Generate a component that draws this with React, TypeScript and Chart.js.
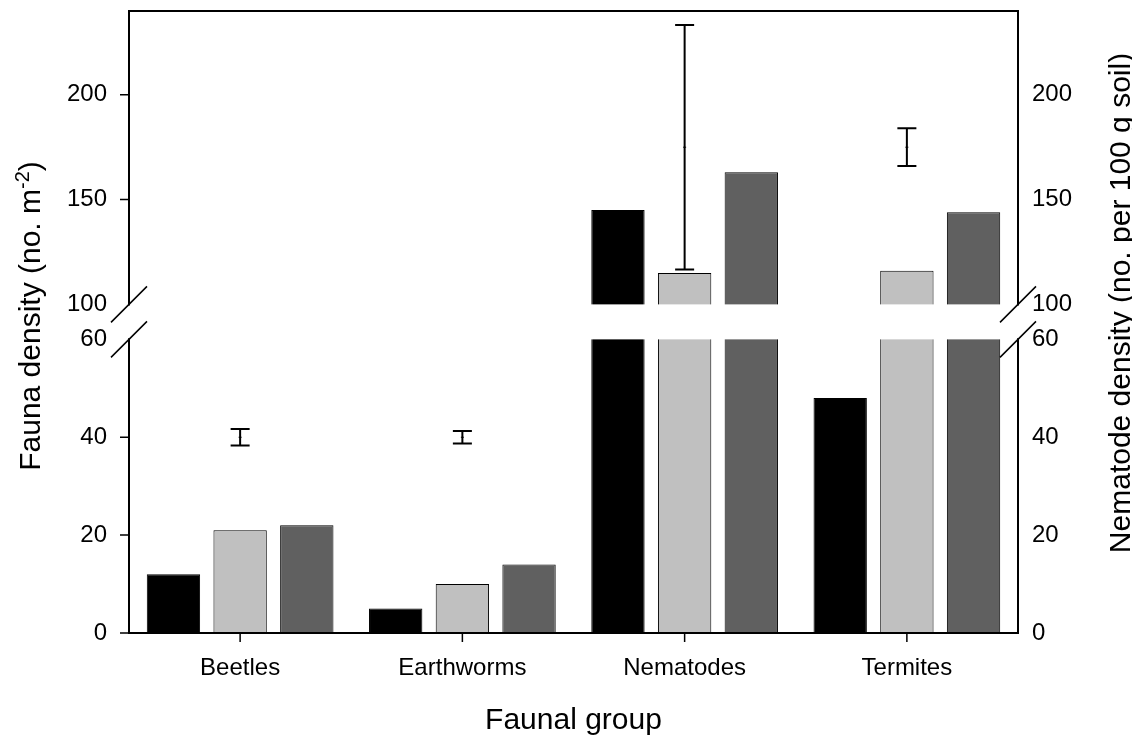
import React, { useEffect, useRef } from 'react';
import { Chart, registerables, LinearScale } from 'chart.js';

// ---------- data ----------
const categories = ['Beetles', 'Earthworms', 'Nematodes', 'Termites'];
const seriesBlack = [12, 5, 145, 48];
const seriesLight = [21, 10, 115, 116];
const seriesDark = [22, 14, 163, 144];
const errorMean = [40, 40, 175, 175];
const errorHalf = [1.7, 1.3, 58.3, 9];
const yTicks = [0, 20, 40, 60, 100, 150, 200];
const seriesColors = ['#000000', '#c0c0c0', '#606060'];

const xTitle = 'Faunal group';
const yTitleMain = 'Fauna density (no. m';
const yTitleSup = '-2';
const yTitleEnd = ')';
const y2Title = 'Nematode density (no. per 100 g soil)';

// ---------- broken axis definition ----------
const AXIS_MAX = 240;
const BREAK_LOW = 60;
const BREAK_HIGH = 100;
const GAP = 7.15;
const UPPER_FACTOR = 0.4282;

function toDisplay(v: number): number {
  if (v <= BREAK_LOW) return v;
  if (v >= BREAK_HIGH) return BREAK_LOW + GAP + (v - BREAK_HIGH) * UPPER_FACTOR;
  return BREAK_LOW + ((v - BREAK_LOW) / (BREAK_HIGH - BREAK_LOW)) * GAP;
}
function fromDisplay(d: number): number {
  if (d <= BREAK_LOW) return d;
  if (d >= BREAK_LOW + GAP) return BREAK_HIGH + (d - BREAK_LOW - GAP) / UPPER_FACTOR;
  return BREAK_LOW + ((d - BREAK_LOW) / GAP) * (BREAK_HIGH - BREAK_LOW);
}

class BrokenLinearScale extends LinearScale {
  static id = 'brokenLinear';
  static defaults = LinearScale.defaults;
  buildTicks() {
    return yTicks.map((value) => ({ value }));
  }
  getPixelForValue(value: any) {
    if (value === null || value === undefined || isNaN(value)) return NaN;
    return super.getPixelForValue(toDisplay(value));
  }
  getValueForPixel(pixel: number) {
    return fromDisplay(super.getValueForPixel(pixel));
  }
}

Chart.register(...registerables, BrokenLinearScale as any);

const FONT = "'Liberation Sans', Arial, Helvetica, sans-serif";

const brokenAxisPlugin = {
  id: 'brokenAxis',
  afterDatasetsDraw(chart: any) {
    const ctx = chart.ctx;
    const { left, right, top, bottom } = chart.chartArea;
    const y = chart.scales.y;
    const x = chart.scales.x;
    const yHi = y.getPixelForValue(BREAK_HIGH);
    const yLo = y.getPixelForValue(BREAK_LOW);
    ctx.save();
    // gap
    ctx.fillStyle = '#ffffff';
    ctx.fillRect(left + 1, yHi, right - left - 2, yLo - yHi);

    // error bars
    ctx.strokeStyle = '#000';
    ctx.lineWidth = 2;
    for (let i = 0; i < categories.length; i++) {
      const cx = x.getPixelForValue(i);
      const pt = y.getPixelForValue(errorMean[i] + errorHalf[i]);
      const pb = y.getPixelForValue(errorMean[i] - errorHalf[i]);
      const pm = y.getPixelForValue(errorMean[i]);
      ctx.beginPath();
      ctx.moveTo(cx, pt);
      ctx.lineTo(cx, pb);
      ctx.moveTo(cx - 9.5, pt);
      ctx.lineTo(cx + 9.5, pt);
      ctx.moveTo(cx - 9.5, pb);
      ctx.lineTo(cx + 9.5, pb);
      ctx.stroke();
      ctx.beginPath();
      ctx.lineWidth = 1;
      ctx.moveTo(cx - 1.5, pm);
      ctx.lineTo(cx + 1.5, pm);
      ctx.stroke();
      ctx.lineWidth = 2;
    }

    // frame / axes
    ctx.lineWidth = 2;
    ctx.lineCap = 'square';
    ctx.beginPath();
    ctx.moveTo(left, top);
    ctx.lineTo(right, top);
    ctx.moveTo(left, bottom);
    ctx.lineTo(right, bottom);
    ctx.moveTo(left, top);
    ctx.lineTo(left, yHi);
    ctx.moveTo(left, yLo);
    ctx.lineTo(left, bottom);
    ctx.moveTo(right, top);
    ctx.lineTo(right, yHi);
    ctx.moveTo(right, yLo);
    ctx.lineTo(right, bottom);
    ctx.stroke();

    // tick marks
    ctx.lineCap = 'butt';
    ctx.lineWidth = 1.5;
    ctx.beginPath();
    yTicks.forEach((v) => {
      if (v === BREAK_LOW || v === BREAK_HIGH) return;
      const py = y.getPixelForValue(v);
      ctx.moveTo(left - 9, py);
      ctx.lineTo(left, py);
    });
    for (let i = 0; i < categories.length; i++) {
      const px = x.getPixelForValue(i);
      ctx.moveTo(px, bottom);
      ctx.lineTo(px, bottom + 9);
    }
    ctx.stroke();

    // break marks
    ctx.lineWidth = 1.5;
    ctx.beginPath();
    [left, right].forEach((ax) => {
      [yHi, yLo].forEach((py) => {
        ctx.moveTo(ax - 18, py + 18);
        ctx.lineTo(ax + 18, py - 18);
      });
    });
    ctx.stroke();
    ctx.restore();
  },
  afterDraw(chart: any) {
    const ctx = chart.ctx;
    const { left, right } = chart.chartArea;
    ctx.save();
    ctx.fillStyle = '#000';
    ctx.textBaseline = 'alphabetic';

    // x title
    ctx.font = `30px ${FONT}`;
    ctx.textAlign = 'center';
    ctx.fillText(xTitle, (left + right) / 2, 729);

    // left y title with superscript
    const mainFont = `30px ${FONT}`;
    const supFont = `20px ${FONT}`;
    ctx.font = mainFont;
    const w1 = ctx.measureText(yTitleMain).width;
    const w3 = ctx.measureText(yTitleEnd).width;
    ctx.font = supFont;
    const w2 = ctx.measureText(yTitleSup).width;
    const total = w1 + w2 + w3;
    ctx.save();
    ctx.translate(40, 316);
    ctx.rotate(-Math.PI / 2);
    ctx.textAlign = 'left';
    ctx.font = mainFont;
    ctx.fillText(yTitleMain, -total / 2, 0);
    ctx.font = supFont;
    ctx.fillText(yTitleSup, -total / 2 + w1, -11);
    ctx.font = mainFont;
    ctx.fillText(yTitleEnd, -total / 2 + w1 + w2, 0);
    ctx.restore();

    // right y title
    ctx.save();
    ctx.translate(1130, 303);
    ctx.rotate(-Math.PI / 2);
    ctx.textAlign = 'center';
    ctx.font = `30px ${FONT}`;
    ctx.fillText(y2Title, 0, 0);
    ctx.restore();

    ctx.restore();
  },
};

export default function App() {
  const canvasRef = useRef<HTMLCanvasElement | null>(null);

  useEffect(() => {
    if (!canvasRef.current) return;
    const tickFont = { family: FONT, size: 24 };
    const yScaleBase = {
      type: 'brokenLinear',
      min: 0,
      max: toDisplay(AXIS_MAX),
      grid: { display: false, drawTicks: false },
      border: { display: false },
    };
    const chart = new Chart(canvasRef.current, {
      type: 'bar',
      data: {
        labels: categories,
        datasets: [seriesBlack, seriesLight, seriesDark].map((d, i) => ({
          data: d,
          backgroundColor: seriesColors[i],
          borderColor: '#000000',
          borderWidth: 1,
          categoryPercentage: 0.9,
          barPercentage: 0.8,
          yAxisID: 'y',
        })),
      },
      options: {
        responsive: false,
        animation: false,
        devicePixelRatio: 1,
        layout: { padding: { top: 11, left: 0, right: 0, bottom: 0 } },
        plugins: { legend: { display: false }, tooltip: { enabled: false } },
        scales: {
          x: {
            type: 'category',
            grid: { display: false, drawTicks: false },
            border: { display: false },
            ticks: { font: tickFont, color: '#000', padding: 21, autoSkip: false, maxRotation: 0 },
            afterFit: (s: any) => {
              s.height = 103;
              s.paddingLeft = 0;
              s.paddingRight = 0;
              s.paddingTop = 0;
              s.paddingBottom = 0;
            },
          },
          y: {
            ...yScaleBase,
            position: 'left',
            ticks: { font: tickFont, color: '#000', padding: 22, autoSkip: false, callback: (v: any) => String(v) },
            afterFit: (s: any) => {
              s.width = 129;
              s.paddingTop = 0;
              s.paddingBottom = 0;
              s.paddingLeft = 0;
              s.paddingRight = 0;
            },
          },
          y2: {
            ...yScaleBase,
            position: 'right',
            ticks: { font: tickFont, color: '#000', padding: 14, autoSkip: false, callback: (v: any) => String(v) },
            afterFit: (s: any) => {
              s.width = 114;
              s.paddingTop = 0;
              s.paddingBottom = 0;
              s.paddingLeft = 0;
              s.paddingRight = 0;
            },
          },
        },
      } as any,
      plugins: [brokenAxisPlugin],
    } as any);
    return () => chart.destroy();
  }, []);

  return (
    <div style={{ position: 'fixed', left: 0, top: 0, width: 1132, height: 736, background: '#fff' }}>
      <canvas ref={canvasRef} width={1132} height={736} style={{ display: 'block' }} />
    </div>
  );
}
